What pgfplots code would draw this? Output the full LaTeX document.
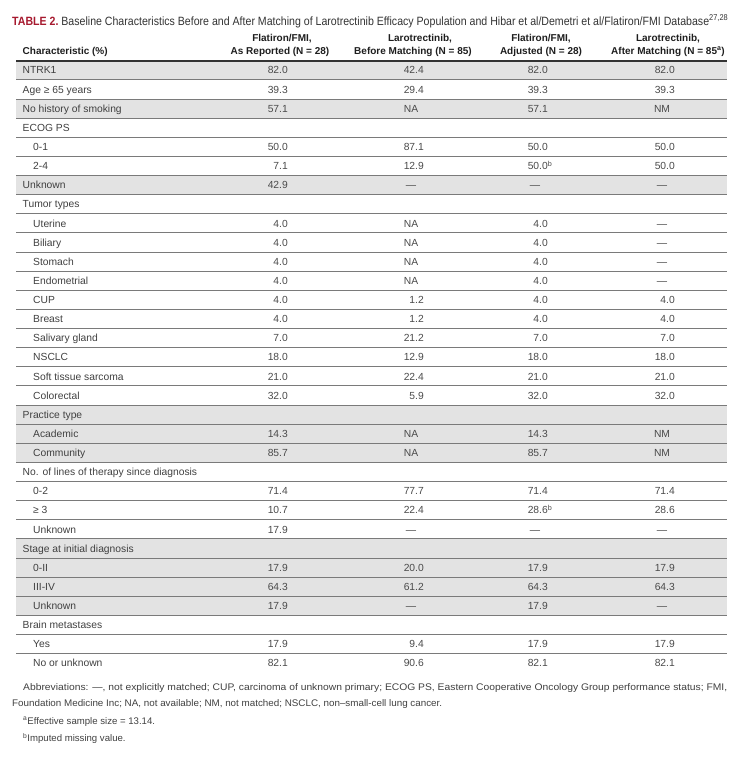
\documentclass[border=0pt]{standalone}
\usepackage{pgfplots}
\pgfplotsset{compat=1.18}
\usepackage{fontspec}
\setmainfont{Liberation Sans}
\usepackage{graphicx}
\definecolor{titlered}{HTML}{A6192E}
\definecolor{rowshade}{HTML}{E3E3E3}
\definecolor{rulec}{HTML}{7A7A7A}
\definecolor{txt}{HTML}{404040}
\definecolor{valc}{HTML}{4A4A4A}
\definecolor{hdr}{HTML}{1E1E1E}
\newcommand{\bodyfont}{\fontsize{10.3bp}{12bp}\selectfont}
\newcommand{\hdfont}{\fontsize{10bp}{12bp}\selectfont\bfseries}
\newcommand{\fnfont}{\fontsize{9.6bp}{11bp}\selectfont}
\newcommand{\rowlab}[3]{\node[anchor=base west,inner sep=0pt,font=\bodyfont,text=txt,yshift=-3.7bp] at (axis cs:#1,#2) {#3};}
\newcommand{\hd}[3]{\node[anchor=base,inner sep=0pt,font=\hdfont,text=hdr,yshift=-3.6bp] at (axis cs:#1,#2) {#3};}
\pgfplotsset{
  numcol/.style={draw=none, mark=none, nodes near coords, point meta=explicit symbolic,
    nodes near coords style={anchor=base east, inner sep=0pt, font=\bodyfont, text=valc, yshift=-3.7bp}},
  symcol/.style={draw=none, mark=none, nodes near coords, point meta=explicit symbolic,
    nodes near coords style={anchor=base, inner sep=0pt, font=\bodyfont, text=valc, yshift=-3.7bp}},
}
\begin{document}
\begin{tikzpicture}
\begin{axis}[
  width=743bp, height=767bp, scale only axis,
  xmin=0, xmax=743, ymin=-3.673, ymax=36.422, y dir=reverse,
  hide axis, clip=false,
]
% invisible frame
\draw[draw=none] (axis cs:0,-3.673) rectangle (axis cs:743,36.422);
% shaded rows
\fill[rowshade] (axis cs:16,-0.5) rectangle (axis cs:727,0.5);
\fill[rowshade] (axis cs:16,1.5) rectangle (axis cs:727,2.5);
\fill[rowshade] (axis cs:16,5.5) rectangle (axis cs:727,6.5);
\fill[rowshade] (axis cs:16,17.5) rectangle (axis cs:727,20.5);
\fill[rowshade] (axis cs:16,24.5) rectangle (axis cs:727,28.5);
% rules
\pgfplotsinvokeforeach{0.5,1.5,2.5,3.5,4.5,5.5,6.5,7.5,8.5,9.5,10.5,11.5,12.5,13.5,14.5,15.5,16.5,17.5,18.5,19.5,20.5,21.5,22.5,23.5,24.5,25.5,26.5,27.5,28.5,29.5,30.5}{
  \draw[rulec, line width=0.9bp] (axis cs:16,#1) -- (axis cs:727,#1);
}
\draw[black!80, line width=1.8bp] (axis cs:16,-0.5) -- (axis cs:727,-0.5);

% title
\node[anchor=base west, inner sep=0pt, yshift=-4.3bp] at (axis cs:12,-2.575)
 {\resizebox{716bp}{\height}{\fontsize{12bp}{14bp}\selectfont{\bfseries\color{titlered}TABLE 2.}\ \color{black!80}Baseline Characteristics Before and After Matching of Larotrectinib Efficacy Population and Hibar et al/Demetri et al/Flatiron/FMI Database\textsuperscript{27,28}}};

% header
\node[anchor=base west,inner sep=0pt,font=\hdfont,text=hdr,yshift=-3.6bp] at (axis cs:22.5,-1.007) {Characteristic (\%)};
\hd{282}{-1.687}{Flatiron/FMI,}
\hd{280}{-1.007}{As Reported (N = 28)}
\hd{420}{-1.687}{Larotrectinib,}
\hd{413}{-1.007}{Before Matching (N = 85)}
\hd{541}{-1.687}{Flatiron/FMI,}
\hd{541}{-1.007}{Adjusted (N = 28)}
\hd{668}{-1.687}{Larotrectinib,}
\hd{668}{-1.007}{After Matching (N = 85\textsuperscript{a})}

% row labels
\rowlab{22.5}{0}{NTRK1}
\rowlab{22.5}{1}{Age ≥ 65 years}
\rowlab{22.5}{2}{No history of smoking}
\rowlab{22.5}{3}{ECOG PS}
\rowlab{33}{4}{0-1}
\rowlab{33}{5}{2-4}
\rowlab{22.5}{6}{Unknown}
\rowlab{22.5}{7}{Tumor types}
\rowlab{33}{8}{Uterine}
\rowlab{33}{9}{Biliary}
\rowlab{33}{10}{Stomach}
\rowlab{33}{11}{Endometrial}
\rowlab{33}{12}{CUP}
\rowlab{33}{13}{Breast}
\rowlab{33}{14}{Salivary gland}
\rowlab{33}{15}{NSCLC}
\rowlab{33}{16}{Soft tissue sarcoma}
\rowlab{33}{17}{Colorectal}
\rowlab{22.5}{18}{Practice type}
\rowlab{33}{19}{Academic}
\rowlab{33}{20}{Community}
\rowlab{22.5}{21}{No. of lines of therapy since diagnosis}
\rowlab{33}{22}{0-2}
\rowlab{33}{23}{≥ 3}
\rowlab{33}{24}{Unknown}
\rowlab{22.5}{25}{Stage at initial diagnosis}
\rowlab{33}{26}{0-II}
\rowlab{33}{27}{III-IV}
\rowlab{33}{28}{Unknown}
\rowlab{22.5}{29}{Brain metastases}
\rowlab{33}{30}{Yes}
\rowlab{33}{31}{No or unknown}

% Column 1: Flatiron/FMI, As Reported
\addplot[numcol] coordinates {
 (288,0)[82.0] (288,1)[39.3] (288,2)[57.1] (288,4)[50.0] (288,5)[7.1] (288,6)[42.9]
 (288,8)[4.0] (288,9)[4.0] (288,10)[4.0] (288,11)[4.0] (288,12)[4.0] (288,13)[4.0]
 (288,14)[7.0] (288,15)[18.0] (288,16)[21.0] (288,17)[32.0]
 (288,19)[14.3] (288,20)[85.7] (288,22)[71.4] (288,23)[10.7] (288,24)[17.9]
 (288,26)[17.9] (288,27)[64.3] (288,28)[17.9] (288,30)[17.9] (288,31)[82.1]
};
% Column 2: Larotrectinib, Before Matching
\addplot[numcol] coordinates {
 (424,0)[42.4] (424,1)[29.4] (424,4)[87.1] (424,5)[12.9]
 (424,12)[1.2] (424,13)[1.2] (424,14)[21.2] (424,15)[12.9] (424,16)[22.4] (424,17)[5.9]
 (424,22)[77.7] (424,23)[22.4] (424,26)[20.0] (424,27)[61.2] (424,30)[9.4] (424,31)[90.6]
};
\addplot[symcol] coordinates {
 (411,2)[NA] (411,6)[—] (411,8)[NA] (411,9)[NA] (411,10)[NA] (411,11)[NA]
 (411,19)[NA] (411,20)[NA] (411,24)[—] (411,28)[—]
};
% Column 3: Flatiron/FMI, Adjusted
\addplot[numcol] coordinates {
 (548,0)[82.0] (548,1)[39.3] (548,2)[57.1] (548,4)[50.0] (548,5)[50.0\rlap{\textsuperscript{b}}]
 (548,8)[4.0] (548,9)[4.0] (548,10)[4.0] (548,11)[4.0] (548,12)[4.0] (548,13)[4.0]
 (548,14)[7.0] (548,15)[18.0] (548,16)[21.0] (548,17)[32.0]
 (548,19)[14.3] (548,20)[85.7] (548,22)[71.4] (548,23)[28.6\rlap{\textsuperscript{b}}]
 (548,26)[17.9] (548,27)[64.3] (548,28)[17.9] (548,30)[17.9] (548,31)[82.1]
};
\addplot[symcol] coordinates {
 (535,6)[—] (535,24)[—]
};
% Column 4: Larotrectinib, After Matching
\addplot[numcol] coordinates {
 (675,0)[82.0] (675,1)[39.3] (675,4)[50.0] (675,5)[50.0]
 (675,12)[4.0] (675,13)[4.0] (675,14)[7.0] (675,15)[18.0] (675,16)[21.0] (675,17)[32.0]
 (675,22)[71.4] (675,23)[28.6] (675,26)[17.9] (675,27)[64.3] (675,30)[17.9] (675,31)[82.1]
};
\addplot[symcol] coordinates {
 (662,2)[NM] (662,6)[—] (662,8)[—] (662,9)[—] (662,10)[—] (662,11)[—]
 (662,19)[NM] (662,20)[NM] (662,24)[—] (662,28)[—]
};

% footnotes
\node[anchor=base west, inner sep=0pt, yshift=-3.5bp, text=txt] at (axis cs:23,32.235)
 {\resizebox{704bp}{\height}{\fnfont Abbreviations: —, not explicitly matched; CUP, carcinoma of unknown primary; ECOG PS, Eastern Cooperative Oncology Group performance status; FMI,}};
\node[anchor=base west, inner sep=0pt, yshift=-3.5bp, text=txt] at (axis cs:12,33.071)
 {\resizebox{430bp}{\height}{\fnfont Foundation Medicine Inc; NA, not available; NM, not matched; NSCLC, non–small-cell lung cancer.}};
\node[anchor=base west, inner sep=0pt, yshift=-3.5bp, text=txt, font=\fnfont] at (axis cs:23,34.012)
 {\textsuperscript{a}Effective sample size = 13.14.};
\node[anchor=base west, inner sep=0pt, yshift=-3.5bp, text=txt, font=\fnfont] at (axis cs:23,34.93)
 {\textsuperscript{b}Imputed missing value.};
\end{axis}
\end{tikzpicture}
\end{document}
